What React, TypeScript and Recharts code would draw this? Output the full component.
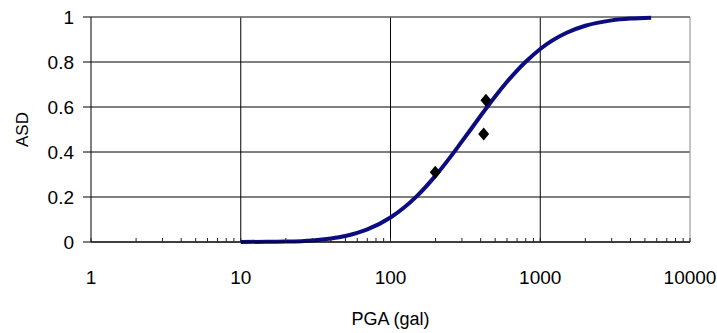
import {
  ComposedChart,
  Line,
  Scatter,
  XAxis,
  YAxis,
  CartesianGrid,
  ReferenceLine,
} from "recharts";

// fitted fragility curve
const curvePga = [10, 15, 20, 30, 40, 50, 70, 100, 150, 200, 250, 300, 350, 400, 500, 600, 700, 800, 1000, 1500, 2000, 3000, 4000, 5500];
const curveAsd = [0.0, 0.001, 0.002, 0.007, 0.016, 0.027, 0.056, 0.109, 0.204, 0.295, 0.376, 0.447, 0.508, 0.561, 0.647, 0.712, 0.762, 0.801, 0.858, 0.93, 0.961, 0.985, 0.993, 0.997];

// observed points (diamonds)
const obsPga = [199, 419, 434];
const obsAsd = [0.31, 0.48, 0.63];

const majorTicks = [1, 10, 100, 1000, 10000];
const minorTicks = [2, 3, 4, 5, 6, 7, 8, 9, 20, 30, 40, 50, 60, 70, 80, 90, 200, 300, 400, 500, 600, 700, 800, 900, 2000, 3000, 4000, 5000, 6000, 7000, 8000, 9000];
const yTicks = [0, 0.2, 0.4, 0.6, 0.8, 1];

const curve = curvePga.map((pga, i) => ({ pga, asd: curveAsd[i] }));
const obs = obsPga.map((pga, i) => ({ pga, asd: obsAsd[i] }));
const xTicks = [...majorTicks, ...minorTicks].sort((a, b) => a - b);

const font = "'Liberation Sans', Arial, sans-serif";
const ink = "#000";

function XTick(props: any) {
  const { x, y, payload } = props;
  const v = payload.value as number;
  return (
    <g>
      <line x1={x} x2={x} y1={y} y2={y - 4} stroke="#222" strokeWidth={1} />
      {majorTicks.includes(v) && (
        <text x={x} y={y + 42} textAnchor="middle" fontFamily={font} fontSize={19} fill={ink}>
          {v}
        </text>
      )}
    </g>
  );
}

function Diamond(props: any) {
  const { cx, cy } = props;
  return (
    <polygon
      points={`${cx},${cy - 6.5} ${cx + 5.5},${cy} ${cx},${cy + 6.5} ${cx - 5.5},${cy}`}
      fill="#000"
    />
  );
}

export default function App() {
  return (
    <div style={{ position: "absolute", left: 0, top: 0, background: "#fff" }}>
      <ComposedChart width={717} height={333} margin={{ top: 17, right: 27, left: 0, bottom: 0 }}>
        <CartesianGrid vertical={false} stroke="#000" />
        <ReferenceLine x={10} stroke="#000" />
        <ReferenceLine x={100} stroke="#000" />
        <ReferenceLine x={1000} stroke="#000" />
        <ReferenceLine x={10000} stroke="#888" />
        <ReferenceLine y={1} stroke="#888" />
        <XAxis
          dataKey="pga"
          type="number"
          scale="log"
          domain={[1, 10000]}
          allowDataOverflow
          ticks={xTicks}
          interval={0}
          height={91}
          tickSize={0}
          tickMargin={0}
          tick={<XTick />}
          axisLine={{ stroke: "#000" }}
          label={{
            value: "PGA (gal)",
            position: "insideBottom",
            offset: 8,
            style: { fontFamily: font, fontSize: 18, fill: ink },
          }}
        />
        <YAxis
          type="number"
          domain={[0, 1]}
          ticks={yTicks}
          width={91}
          tickSize={8}
          tickMargin={9}
          tick={{ fontFamily: font, fontSize: 19, fill: ink }}
          tickLine={{ stroke: "#000" }}
          axisLine={{ stroke: "#000" }}
          label={{
            value: "ASD",
            angle: -90,
            position: "insideLeft",
            offset: 22,
            style: { fontFamily: font, fontSize: 17, fill: ink, textAnchor: "middle" },
          }}
        />
        <Line
          data={curve}
          dataKey="asd"
          type="monotone"
          stroke="#0c0c80"
          strokeWidth={4}
          dot={false}
          activeDot={false}
          isAnimationActive={false}
        />
        <Scatter data={obs} dataKey="asd" shape={<Diamond />} isAnimationActive={false} />
      </ComposedChart>
    </div>
  );
}
